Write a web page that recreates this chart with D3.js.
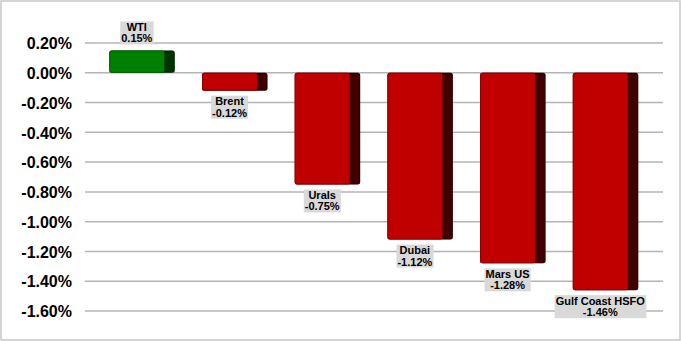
<!DOCTYPE html>
<html><head><meta charset="utf-8">
<script src="https://cdn.jsdelivr.net/npm/d3@7"></script>
<style>body{margin:0;background:#fff;} svg{display:block;}</style>
</head><body>
<svg id="c" width="681" height="341"></svg>
<script>
const categories = ["WTI","Brent","Urals","Dubai","Mars US","Gulf Coast HSFO"];
const values = [0.15,-0.12,-0.75,-1.12,-1.28,-1.46];
const tickValues = [0.2,0,-0.2,-0.4,-0.6,-0.8,-1.0,-1.2,-1.4,-1.6];

const pct = d => d3.format(".2f")(d).replace("\u2212","-") + "%";

const svg = d3.select("#c");
svg.append("rect").attr("x",1).attr("y",1).attr("width",679).attr("height",339)
  .attr("fill","#fff").attr("stroke","#c8c8c8").attr("stroke-width",1.5);

const y = d3.scaleLinear().domain([-1.6,0.2]).range([311,43]);
const x = d3.scaleBand().domain(categories).range([71.6,665.5]).padding(0.407);
const depth = 10.5;

// gridlines
svg.append("g").selectAll("line").data(tickValues).join("line")
  .attr("x1",85).attr("x2",663)
  .attr("y1",d=>y(d)).attr("y2",d=>y(d))
  .attr("stroke","#b4b4b4").attr("stroke-width",1.5);

// y axis
const yAxis = d3.axisLeft(y).tickValues(tickValues).tickSize(0).tickPadding(0)
  .tickFormat(pct);
const ga = svg.append("g").attr("transform","translate(72,0)").call(yAxis);
ga.select(".domain").remove();
ga.selectAll("text").attr("font-family","'Liberation Sans',Arial,sans-serif")
  .attr("font-weight","bold").attr("font-size","16px").attr("fill","#000").attr("dy","0.36em");

// bars
const bars = svg.append("g").selectAll("g").data(categories).join("g");
bars.each(function(c,i){
  const g = d3.select(this);
  const v = values[i];
  const top = y(Math.max(v,0)), bot = y(Math.min(v,0));
  const x0 = x(c), w = x.bandwidth();
  const pos = v >= 0;
  const front = pos ? "#008000" : "#c00000";
  const side = pos ? "#003300" : "#400000";
  g.append("rect").attr("x",x0).attr("y",top).attr("width",w+depth).attr("height",bot-top)
    .attr("rx",2.5).attr("fill",side);
  g.append("rect").attr("x",x0).attr("y",top).attr("width",w).attr("height",bot-top)
    .attr("rx",2).attr("fill",front);
  g.append("rect").attr("x",x0+0.5).attr("y",top+0.5).attr("width",w+depth-1).attr("height",Math.max(0,bot-top-1))
    .attr("rx",2.5).attr("fill","none").attr("stroke","rgba(0,0,0,0.25)").attr("stroke-width",1);

  // label
  const cx = x0 + w/2;
  const lbl = g.append("g");
  const t = lbl.append("text").attr("text-anchor","middle")
    .attr("font-family","'Liberation Sans',Arial,sans-serif").attr("font-weight","bold")
    .attr("font-size","11px").attr("fill","#000");
  t.append("tspan").attr("x",cx).attr("dy",0).text(c);
  t.append("tspan").attr("x",cx).attr("dy","1.05em").text(pct(v));
  const boxH = 23;
  let boxTop = pos ? top - 6 - boxH : bot + 5;
  t.attr("y", boxTop + 9.5);
  const bb = t.node().getBBox();
  lbl.insert("rect","text").attr("x",bb.x-1).attr("y",boxTop).attr("width",bb.width+2).attr("height",boxH)
    .attr("fill","#d9d9d9");
});
</script>
</body></html>
